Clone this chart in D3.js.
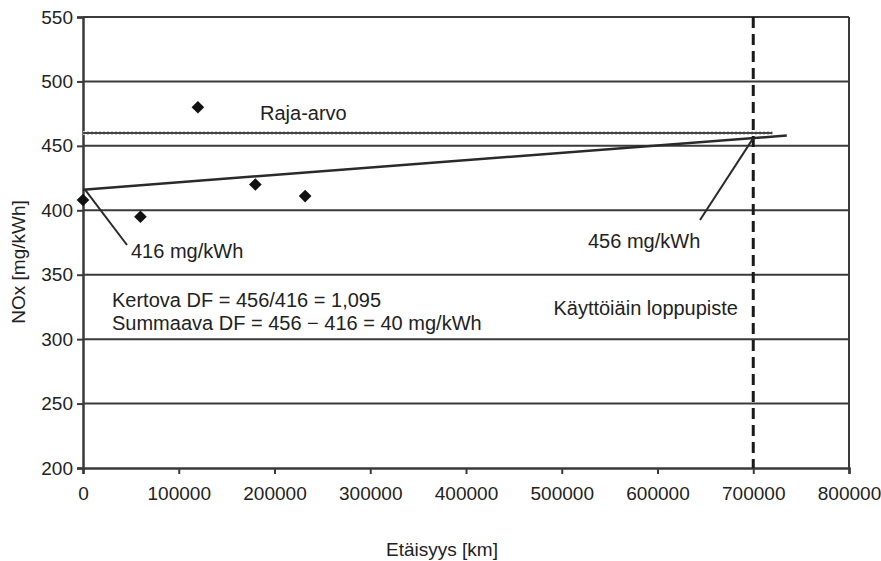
<!DOCTYPE html>
<html>
<head>
<meta charset="utf-8">
<script src="https://cdn.jsdelivr.net/npm/d3@7"></script>
<style>
  body { margin: 0; background: #fff; }
  text { font-family: "Liberation Sans", Arial, sans-serif; fill: #222; }
</style>
</head>
<body>
<div id="chart"></div>
<script>
// measured points (distance km, NOx mg/kWh)
var distances = [0, 60000, 120000, 180000, 232000];
var noxValues = [408, 395, 480, 420, 411];
var xTicks = [0, 100000, 200000, 300000, 400000, 500000, 600000, 700000, 800000];
var yTicks = [200, 250, 300, 350, 400, 450, 500, 550];
var limitValue = 460;
var limitRange = [0, 720000];
var trendStart = [0, 416];
var trendEnd = [700000, 456];
var trendReach = 735000;
var endOfLife = 700000;

var W = 881, H = 561;
var svg = d3.select("#chart").append("svg").attr("width", W).attr("height", H);

var x = d3.scaleLinear().domain([0, 800000]).range([83, 849]);
var y = d3.scaleLinear().domain([200, 550]).range([468, 17]);
var FS = "19px";   // axis text
var FA = "20px";   // annotations

// grid lines
svg.append("g").selectAll("line").data(yTicks.slice(1)).join("line")
  .attr("x1", x(0)).attr("x2", x(800000))
  .attr("y1", d => y(d)).attr("y2", d => y(d))
  .attr("stroke", "#3a3a3a").attr("stroke-width", 2);

// right border
svg.append("line").attr("x1", x(800000)).attr("x2", x(800000))
  .attr("y1", y(550)).attr("y2", y(200)).attr("stroke", "#3a3a3a").attr("stroke-width", 2);

// axes
var xAxis = svg.append("g").attr("transform", "translate(0," + y(200) + ")")
  .call(d3.axisBottom(x).tickValues(xTicks).tickFormat(d3.format("d")).tickSize(6).tickPadding(13));
var yAxis = svg.append("g").attr("transform", "translate(" + x(0) + ",0)")
  .call(d3.axisLeft(y).tickValues(yTicks).tickSize(6).tickPadding(4));
[xAxis, yAxis].forEach(function (g) {
  g.select(".domain").attr("stroke", "#3a3a3a").attr("stroke-width", 2.5);
  g.selectAll(".tick line").attr("stroke", "#3a3a3a").attr("stroke-width", 2);
  g.selectAll(".tick text").attr("font-size", FS).attr("fill", "#222")
    .attr("font-family", "Liberation Sans, Arial, sans-serif");
});

// limit value line (Raja-arvo)
svg.append("line").attr("x1", x(limitRange[0])).attr("x2", x(limitRange[1]))
  .attr("y1", y(limitValue)).attr("y2", y(limitValue))
  .attr("stroke", "#c8c8c8").attr("stroke-width", 4).attr("stroke-dasharray", "2,2");
svg.append("line").attr("x1", x(limitRange[0])).attr("x2", x(limitRange[1]))
  .attr("y1", y(limitValue)).attr("y2", y(limitValue))
  .attr("stroke", "#444").attr("stroke-width", 2);

// trend line
var slope = (trendEnd[1] - trendStart[1]) / (trendEnd[0] - trendStart[0]);
svg.append("line")
  .attr("x1", x(trendStart[0])).attr("y1", y(trendStart[1]))
  .attr("x2", x(trendReach)).attr("y2", y(trendStart[1] + slope * trendReach))
  .attr("stroke", "#2a2a2a").attr("stroke-width", 2.5);

// end of life vertical dashed line
svg.append("line").attr("x1", x(endOfLife)).attr("x2", x(endOfLife))
  .attr("y1", y(550)).attr("y2", y(200))
  .attr("stroke", "#1a1a1a").attr("stroke-width", 3).attr("stroke-dasharray", "11,6");

// points
svg.append("g").selectAll("path").data(distances).join("path")
  .attr("d", d3.symbol().type(d3.symbolSquare).size(80))
  .attr("transform", (d, i) => "translate(" + x(d) + "," + y(noxValues[i]) + ") rotate(45)")
  .attr("fill", "#111");

// leader lines
svg.append("line").attr("x1", x(trendStart[0]) + 2).attr("y1", y(trendStart[1]))
  .attr("x2", 127).attr("y2", 245).attr("stroke", "#2a2a2a").attr("stroke-width", 2);
svg.append("line").attr("x1", x(trendEnd[0])).attr("y1", y(trendEnd[1]))
  .attr("x2", 700).attr("y2", 220).attr("stroke", "#2a2a2a").attr("stroke-width", 2);

// texts
function label(tx, ty, s, anchor) {
  return svg.append("text").attr("x", tx).attr("y", ty).attr("font-size", FA)
    .attr("text-anchor", anchor || "start").text(s);
}
label(131, 258, trendStart[1] + " mg/kWh");
label(588, 248, trendEnd[1] + " mg/kWh");
label(260, 120, "Raja-arvo");
label(112, 307, "Kertova DF = 456/416 = 1,095");
label(112, 330, "Summaava DF = 456 \u2212 416 = 40 mg/kWh");
label(738, 315, "K\u00e4ytt\u00f6i\u00e4in loppupiste", "end");
svg.append("text").attr("x", 442).attr("y", 556).attr("font-size", FS)
  .attr("text-anchor", "middle").text("Et\u00e4isyys [km]");
svg.append("text").attr("transform", "translate(25,262) rotate(-90)")
  .attr("font-size", FS).attr("text-anchor", "middle").text("NOx [mg/kWh]");
</script>
</body>
</html>
